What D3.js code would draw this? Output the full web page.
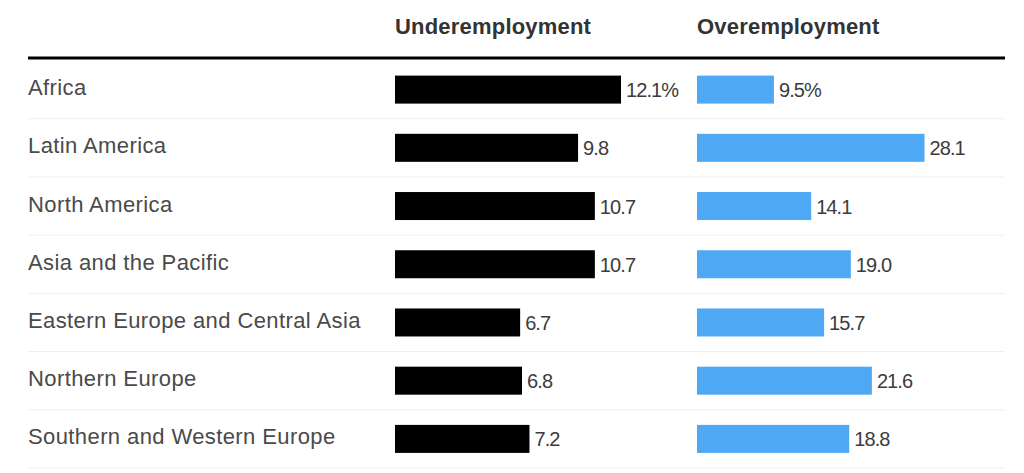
<!DOCTYPE html>
<html lang="en">
<head>
<meta charset="utf-8">
<title>Underemployment and overemployment by region</title>
<script src="https://d3js.org/d3.v7.min.js"></script>
<style>
  body { margin: 0; background: #fff; }
  svg { display: block; font-family: "Liberation Sans", Helvetica, Arial, sans-serif; }
</style>
</head>
<body>
<div id="chart"></div>
<script>
// Data
var regions = ["Africa", "Latin America", "North America", "Asia and the Pacific",
               "Eastern Europe and Central Asia", "Northern Europe", "Southern and Western Europe"];
var under = [12.1, 9.8, 10.7, 10.7, 6.7, 6.8, 7.2];
var over = [9.5, 28.1, 14.1, 19.0, 15.7, 21.6, 18.8];
var headers = ["Underemployment", "Overemployment"];

var w = 1024, h = 473;
var left = 28, right = 1005;
var barH = 28;

var svg = d3.select("#chart").append("svg")
    .attr("width", w)
    .attr("height", h);

var y = d3.scaleBand()
    .domain(regions)
    .range([60.5, 468]);

var xUnder = d3.scaleLinear().domain([0, 12.1]).range([395, 621]);
var xOver = d3.scaleLinear().domain([0, 28.1]).range([697, 924.5]);

// headers
svg.selectAll("text.header")
    .data(headers)
  .enter().append("text")
    .attr("class", "header")
    .attr("x", function(d, i) { return i == 0 ? xUnder(0) : xOver(0); })
    .attr("y", 34)
    .style("font-size", "22px")
    .style("font-weight", "bold")
    .style("letter-spacing", "0.2px")
    .style("fill", "#333")
    .text(function(d) { return d; });

// row separators
svg.selectAll("line.sep")
    .data(regions)
  .enter().append("line")
    .attr("class", "sep")
    .attr("x1", left).attr("x2", right)
    .attr("y1", function(d) { return y(d) + y.bandwidth(); })
    .attr("y2", function(d) { return y(d) + y.bandwidth(); })
    .style("stroke", "#efefef")
    .style("stroke-width", 1);

// top rule
svg.append("line")
    .attr("x1", left).attr("x2", right)
    .attr("y1", 58).attr("y2", 58)
    .style("stroke", "#000")
    .style("stroke-width", 3);

var rows = svg.selectAll("g.row")
    .data(regions)
  .enter().append("g")
    .attr("class", "row")
    .attr("transform", function(d) { return "translate(0," + (y(d) + y.bandwidth() / 2) + ")"; });

rows.append("text")
    .attr("x", left)
    .attr("y", 5.5)
    .style("font-size", "22px")
    .style("letter-spacing", "0.4px")
    .style("fill", "#4a4a4a")
    .text(function(d) { return d; });

rows.append("rect")
    .attr("x", xUnder(0))
    .attr("y", -barH / 2)
    .attr("height", barH)
    .attr("width", function(d, i) { return xUnder(under[i]) - xUnder(0); })
    .style("fill", "#000");

rows.append("text")
    .attr("x", function(d, i) { return xUnder(under[i]) + 5; })
    .attr("y", 7.5)
    .style("font-size", "20px")
    .style("letter-spacing", "-0.9px")
    .style("fill", "#3c3c3c")
    .text(function(d, i) { return under[i].toFixed(1) + (i == 0 ? "%" : ""); });

rows.append("rect")
    .attr("x", xOver(0))
    .attr("y", -barH / 2)
    .attr("height", barH)
    .attr("width", function(d, i) { return xOver(over[i]) - xOver(0); })
    .style("fill", "#4ea8f4");

rows.append("text")
    .attr("x", function(d, i) { return xOver(over[i]) + 5; })
    .attr("y", 7.5)
    .style("font-size", "20px")
    .style("letter-spacing", "-0.9px")
    .style("fill", "#3c3c3c")
    .text(function(d, i) { return over[i].toFixed(1) + (i == 0 ? "%" : ""); });
</script>
</body>
</html>
